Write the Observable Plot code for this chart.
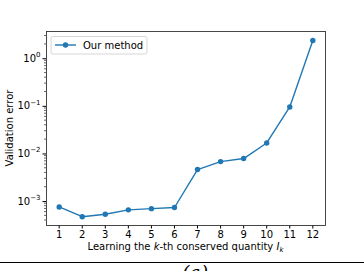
<!DOCTYPE html>
<html>
<head>
<meta charset="utf-8">
<script src="https://cdn.jsdelivr.net/npm/d3@7"></script>
<script src="https://cdn.jsdelivr.net/npm/@observablehq/plot@0.6"></script>
<style>
  html, body { margin: 0; padding: 0; background: #fff; }
  #chart svg { display: block; }
</style>
</head>
<body>
<div id="chart"></div>
<script>
const ks = [1, 2, 3, 4, 5, 6, 7, 8, 9, 10, 11, 12];
const errors = [7.7e-4, 4.8e-4, 5.4e-4, 6.7e-4, 7.1e-4, 7.5e-4, 4.7e-3, 6.9e-3, 8.0e-3, 1.7e-2, 9.7e-2, 2.42];
const seriesName = "Our method";
const yMajorTicks = [1e-3, 1e-2, 1e-1, 1e0];
const yTickExponents = ["\u22123", "\u22122", "\u22121", "0"];
const yMinorTicks = [];
for (const d of [1e-4, 1e-3, 1e-2, 1e-1, 1e0]) for (let m = 2; m <= 9; m++) yMinorTicks.push(d * m);

const data = ks.map((k, i) => ({k, err: errors[i]}));
const color = "#1f77b4";
const W = 364, H = 271;
const font = "DejaVu Sans, sans-serif";
const fs = 10;

const yDomain = [Math.pow(10, -3.503), Math.pow(10, 0.572)];
const plot = Plot.plot({
  width: W,
  height: H,
  marginLeft: 46,
  marginRight: 39,
  marginTop: 31,
  marginBottom: 46,
  style: {fontFamily: font, fontSize: fs + "px", color: "#000", background: "#fff"},
  x: {domain: [0.45, 12.55], label: null},
  y: {type: "log", domain: yDomain, label: null},
  marks: [
    Plot.axisX({ticks: ks, tickSize: 3.5, tickPadding: 2, tickFormat: d => String(d), fontSize: fs + "px"}),
    Plot.axisY({ticks: yMajorTicks, tickSize: 3.5, tickFormat: () => ""}),
    Plot.line(data, {x: "k", y: "err", stroke: color, strokeWidth: 1.4}),
    Plot.dot(data, {x: "k", y: "err", fill: color, r: 2.7}),
    Plot.frame({stroke: "#333", strokeWidth: 0.9})
  ]
});

const svg = d3.select(plot);
const yS = plot.scale("y");

// minor ticks
const minorG = svg.append("g").attr("stroke", "#000").attr("stroke-width", 0.6);
yMinorTicks.filter(v => v >= yDomain[0] && v <= yDomain[1]).forEach(v => {
  const yy = yS.apply(v);
  minorG.append("line").attr("x1", 44).attr("x2", 46).attr("y1", yy).attr("y2", yy);
});

// y tick labels with superscripts
yMajorTicks.forEach((v, i) => {
  const yy = yS.apply(v);
  const t = svg.append("text")
    .attr("x", 40.5).attr("y", yy + 3.5)
    .attr("text-anchor", "end")
    .attr("font-family", font).attr("font-size", fs + "px").attr("fill", "#000");
  t.append("tspan").text("10");
  t.append("tspan").attr("font-size", "7px").attr("dy", -4.5).text(yTickExponents[i]);
});

// y label
svg.append("text")
  .attr("transform", "translate(9,128) rotate(-90)")
  .attr("text-anchor", "middle").attr("dominant-baseline", "central")
  .attr("font-family", font).attr("font-size", fs + "px")
  .text("Validation error");

// x label
const xl = svg.append("text")
  .attr("x", 185.5).attr("y", 250)
  .attr("text-anchor", "middle")
  .attr("font-family", font).attr("font-size", fs + "px");
xl.append("tspan").text("Learning the ");
xl.append("tspan").attr("font-style", "italic").text("k");
xl.append("tspan").text("-th conserved quantity ");
xl.append("tspan").attr("font-style", "italic").text("I");
xl.append("tspan").attr("font-style", "italic").attr("font-size", "7px").attr("dy", 2).text("k");

// separator rule and caption
svg.append("line").attr("x1", 0).attr("x2", W).attr("y1", 262.5).attr("y2", 262.5)
  .attr("stroke", "#000").attr("stroke-width", 1);
svg.append("text").attr("x", 195).attr("y", 279)
  .attr("text-anchor", "middle")
  .attr("font-family", "DejaVu Serif, serif").attr("font-style", "italic").attr("font-size", "19px")
  .text("(a)");

// legend
const lg = svg.append("g");
lg.append("rect").attr("x", 51).attr("y", 36.5).attr("width", 96).attr("height", 17.5)
  .attr("rx", 2).attr("fill", "#fff").attr("stroke", "#ccc").attr("stroke-width", 0.8);
lg.append("line").attr("x1", 55).attr("x2", 76).attr("y1", 45).attr("y2", 45)
  .attr("stroke", color).attr("stroke-width", 1.4);
lg.append("circle").attr("cx", 65.5).attr("cy", 45).attr("r", 2.7).attr("fill", color);
lg.append("text").attr("x", 83).attr("y", 45).attr("dominant-baseline", "central")
  .attr("text-anchor", "start")
  .attr("font-family", font).attr("font-size", fs + "px").text(seriesName);

document.getElementById("chart").appendChild(plot);
</script>
</body>
</html>
